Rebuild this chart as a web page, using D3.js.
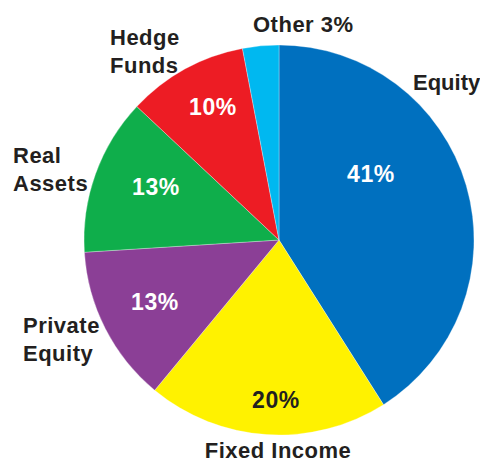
<!DOCTYPE html>
<html>
<head>
<meta charset="utf-8">
<script src="https://cdn.jsdelivr.net/npm/d3@7"></script>
<style>
  body { margin: 0; background: #fff; }
  text { font-family: "Liberation Sans", Arial, Helvetica, sans-serif; font-weight: bold; }
</style>
</head>
<body>
<div id="chart"></div>
<script>
// datos
const categorias = ["Equity", "Fixed Income", "Private Equity", "Real Assets", "Hedge Funds", "Other"];
const valores = [41, 20, 13, 13, 10, 3];
const colores = ["#0070bf", "#fff200", "#8b3f96", "#0fae4b", "#ed1c24", "#00b8f0"];

// posicion de etiquetas (no son datos)
const etiquetasPct = [
  { x: 371, y: 182, fill: "#fff" },
  { x: 276, y: 408, fill: "#231f20" },
  { x: 155, y: 310, fill: "#fff" },
  { x: 156, y: 195, fill: "#fff" },
  { x: 213, y: 115, fill: "#fff" },
  null
];
const etiquetasCat = [
  { lines: ["Equity"], x: 413, y: 90, anchor: "start", ls: 0 },
  { lines: ["Fixed Income"], x: 278, y: 458, anchor: "middle", ls: 0.5 },
  { lines: ["Private", "Equity"], x: 23, y: 333, anchor: "start", ls: 0.5 },
  { lines: ["Real", "Assets"], x: 13, y: 163, anchor: "start", ls: 0.5 },
  { lines: ["Hedge", "Funds"], x: 110, y: 45, anchor: "start", ls: 0.5 },
  { lines: ["Other 3%"], x: 253, y: 32, anchor: "start", ls: 0.5 }
];

const width = 480, height = 462;
const cx = 279, cy = 240, radio = 195;

const svg = d3.select("#chart").append("svg")
  .attr("width", width)
  .attr("height", height);

const datos = categorias.map((c, i) => ({ cat: c, val: valores[i], i }));

const pie = d3.pie().value(d => d.val).sort(null);
const arc = d3.arc().innerRadius(0).outerRadius(radio);

const g = svg.append("g").attr("transform", `translate(${cx},${cy})`);

g.selectAll("path")
  .data(pie(datos))
  .enter()
  .append("path")
  .attr("d", arc)
  .attr("fill", d => colores[d.data.i])
  .attr("stroke", "#fff")
  .attr("stroke-opacity", 0.5)
  .attr("stroke-width", 0.6);

// porcentajes
svg.selectAll("text.pct")
  .data(datos.filter(d => etiquetasPct[d.i]))
  .enter()
  .append("text")
  .attr("class", "pct")
  .attr("x", d => etiquetasPct[d.i].x)
  .attr("y", d => etiquetasPct[d.i].y)
  .attr("text-anchor", "middle")
  .style("font-size", "23px")
  .style("letter-spacing", "0.6px")
  .style("fill", d => etiquetasPct[d.i].fill)
  .text(d => d.val + "%");

// categorias
const cats = svg.selectAll("text.cat")
  .data(datos)
  .enter()
  .append("text")
  .attr("class", "cat")
  .attr("x", d => etiquetasCat[d.i].x)
  .attr("y", d => etiquetasCat[d.i].y)
  .attr("text-anchor", d => etiquetasCat[d.i].anchor)
  .style("font-size", "22px")
  .style("letter-spacing", d => etiquetasCat[d.i].ls + "px")
  .style("fill", "#231f20");

cats.selectAll("tspan")
  .data(d => etiquetasCat[d.i].lines.map(l => ({ l, x: etiquetasCat[d.i].x })))
  .enter()
  .append("tspan")
  .attr("x", t => t.x)
  .attr("dy", (t, j) => j === 0 ? 0 : 28)
  .text(t => t.l);
</script>
</body>
</html>
